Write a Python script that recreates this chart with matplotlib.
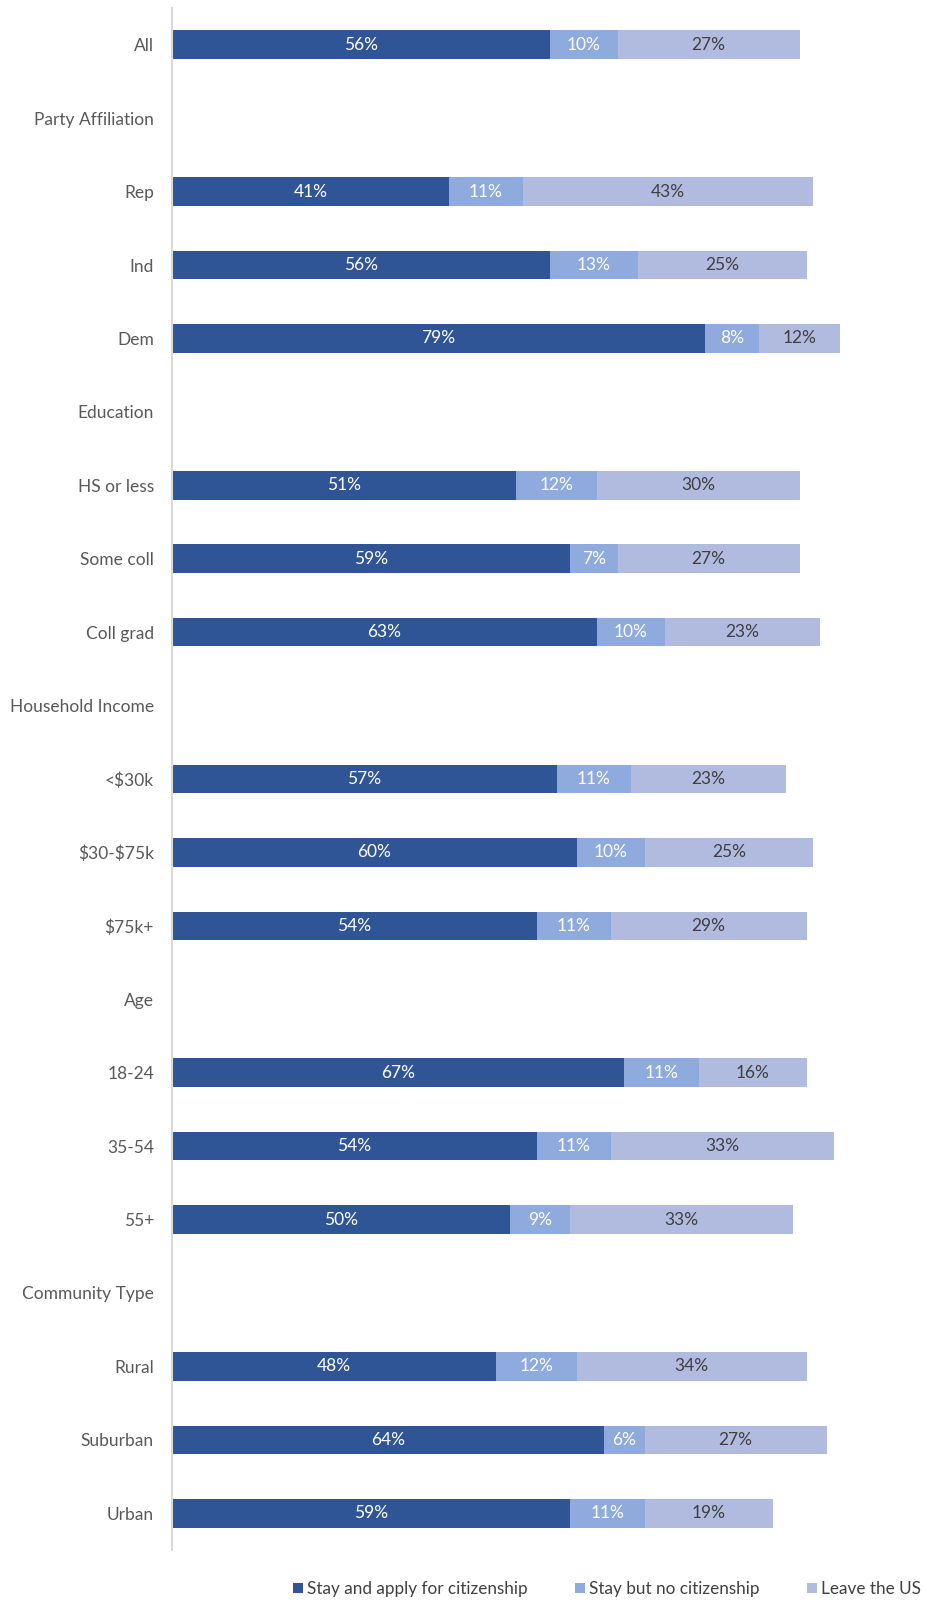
import numpy as np
import matplotlib
matplotlib.use("Agg")
import matplotlib.pyplot as plt

plt.rcParams['font.family'] = ['Lato', 'DejaVu Sans']
plt.rcParams['text.parse_math'] = False

categories = ["All", "Party Affiliation", "Rep", "Ind", "Dem", "Education",
              "HS or less", "Some coll", "Coll grad", "Household Income",
              "<$30k", "$30-$75k", "$75k+", "Age", "18-24", "35-54", "55+",
              "Community Type", "Rural", "Suburban", "Urban"]
stay_cit = [56, None, 41, 56, 79, None, 51, 59, 63, None, 57, 60, 54, None,
            67, 54, 50, None, 48, 64, 59]
stay_no = [10, None, 11, 13, 8, None, 12, 7, 10, None, 11, 10, 11, None,
           11, 11, 9, None, 12, 6, 11]
leave = [27, None, 43, 25, 12, None, 30, 27, 23, None, 23, 25, 29, None,
         16, 33, 33, None, 34, 27, 19]
series_names = ["Stay and apply for citizenship", "Stay but no citizenship", "Leave the US"]
colors = ["#2F5597", "#8FAADC", "#B1BBDF"]
label_colors = ["white", "white", "#404040"]

fig = plt.figure(figsize=(9.25, 16.02), dpi=100)
ax = fig.add_axes([172 / 925, 1 - 1550 / 1602, (847 - 172) / 925, (1550 - 8) / 1602])

y = np.arange(len(categories))
left = np.zeros(len(categories))
for vals, name, c, lc in zip([stay_cit, stay_no, leave], series_names, colors, label_colors):
    v = np.array([0 if x is None else x for x in vals], dtype=float)
    ax.barh(y, v, left=left, height=0.39, color=c, label=name)
    for i, x in enumerate(vals):
        if x is not None:
            ax.text(left[i] + x / 2, i, f"{x}%", ha="center", va="center",
                    color=lc, fontsize=12.5)
    left += v

ax.set_xlim(0, 100)
ax.set_ylim(len(categories) - 0.5, -0.5)
ax.set_yticks(y)
ax.set_yticklabels(categories, fontsize=12.5, color="#595959")
ax.tick_params(axis="y", length=0, pad=13)
ax.set_xticks([])
for s in ["top", "right", "bottom"]:
    ax.spines[s].set_visible(False)
ax.spines["left"].set_color("#D9D9D9")
ax.spines["left"].set_linewidth(1.5)

fig.legend(loc="center", bbox_to_anchor=(607 / 925, 1 - 1589 / 1602), ncol=3,
           frameon=False, fontsize=12.3, handlelength=0.6, handleheight=0.6,
           handletextpad=0.25, columnspacing=2.75, labelcolor="#404040")

fig.savefig("out.png", dpi=100)
